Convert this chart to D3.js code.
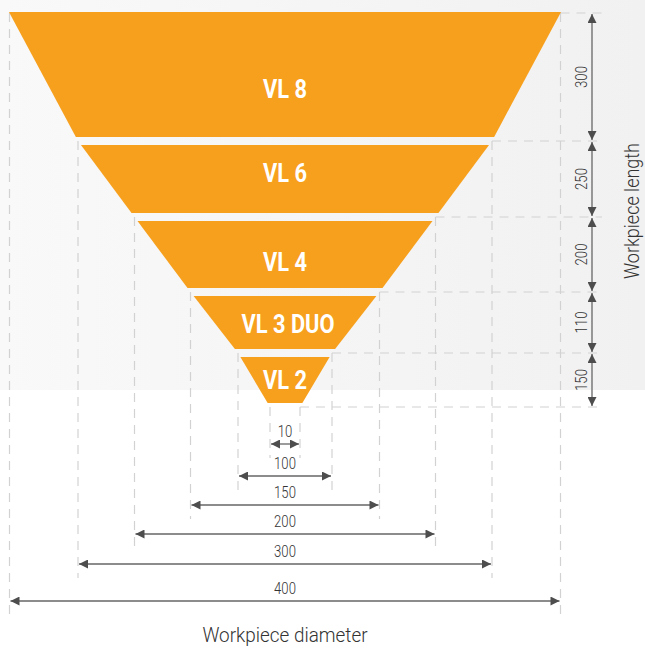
<!DOCTYPE html>
<html><head><meta charset="utf-8">
<script src="https://cdn.jsdelivr.net/npm/d3@7"></script>
<style>html,body{margin:0;padding:0;background:#fff}svg{display:block}</style>
</head><body>
<svg id="c" width="645" height="648"></svg>
<script>
// Data
const models = ["VL 8", "VL 6", "VL 4", "VL 3 DUO", "VL 2"];
const lengths = [300, 250, 200, 110, 150];            // workpiece length per model
const diameters = [400, 300, 200, 150, 100, 10];      // top diameter of each model, last = bottom of VL 2
const diameterTicks = [10, 100, 150, 200, 300, 400];  // bottom dimension rows

// layout
const labelDy = [14, -6, 7, 1, 0];
const FONT = "Roboto, 'Liberation Sans', sans-serif";
const svg = d3.select("#c");
const W = 645, H = 648, cx = 285;

const cum = [0];
lengths.forEach(l => cum.push(cum[cum.length - 1] + l));

// schematic (non-proportional) scales
const y = d3.scaleLinear().domain(cum).range([13, 141, 217, 292, 353, 407]);
const half = d3.scaleLinear().domain([0, 5, 50, 75, 100, 150, 200]).range([0, 15, 47, 94.5, 150.5, 207, 275.5]);
const xL = d => cx - half(d / 2), xR = d => cx + half(d / 2);
const rowY = d3.scaleOrdinal().domain(diameterTicks).range([444, 476, 505, 534, 564, 601]);

function ctext(parent, x, yy, str, opt) {
  const sx = opt.sx || 0.82;
  const rot = opt.rot ? ` rotate(${opt.rot})` : "";
  return parent.append("text")
    .attr("transform", `translate(${x},${yy})${rot} scale(${sx},1)`)
    .attr("text-anchor", "middle").attr("fill", opt.fill || "#333")
    .attr("font-family", FONT).attr("font-weight", opt.weight || 400)
    .attr("font-size", opt.size).text(str);
}

const defs = svg.append("defs");
const g = defs.append("linearGradient").attr("id", "bg").attr("x1", 0).attr("x2", 1).attr("y1", 0).attr("y2", 0);
g.append("stop").attr("offset", 0).attr("stop-color", "#f9f9f9");
g.append("stop").attr("offset", 1).attr("stop-color", "#f1f1f1");
defs.append("marker").attr("id", "ah").attr("viewBox", "0 0 10 10").attr("refX", 10).attr("refY", 5)
  .attr("markerWidth", 10).attr("markerHeight", 9).attr("markerUnits", "userSpaceOnUse").attr("orient", "auto-start-reverse")
  .append("path").attr("d", "M0,0 L10,5 L0,10 Z").attr("fill", "#4d4d4d");

svg.append("rect").attr("x", 0).attr("y", 0).attr("width", W).attr("height", 390).attr("fill", "url(#bg)");

const guides = svg.append("g").attr("stroke", "#d2d2d2").attr("stroke-width", 1.2).attr("stroke-dasharray", "9,7").attr("fill", "none");
diameters.forEach((d, i) => {
  const y0 = y(cum[i]);
  const y1 = rowY(d) + 14;
  [xL(d), xR(d)].forEach(x => guides.append("line").attr("x1", x).attr("x2", x).attr("y1", y0).attr("y2", y1));
});
cum.forEach((c, i) => {
  guides.append("line").attr("x1", xR(diameters[i])).attr("x2", i === 0 ? 606 : 602)
    .attr("y1", y(c)).attr("y2", y(c));
});

// trapezoids
const gap = 4;
const trap = svg.append("g");
models.forEach((m, i) => {
  const yt = y(cum[i]), yb = y(cum[i + 1]);
  const dt = diameters[i], db = diameters[i + 1];
  const t0 = i === 0 ? yt - 1 : yt + gap, t1 = yb - gap;
  const lerp = (a, b, yy) => a + (b - a) * (yy - yt) / (yb - yt);
  const pts = [
    [lerp(xL(dt), xL(db), t0), t0], [lerp(xR(dt), xR(db), t0), t0],
    [lerp(xR(dt), xR(db), t1), t1], [lerp(xL(dt), xL(db), t1), t1]
  ];
  trap.append("polygon").attr("points", pts.map(p => p.join(",")).join(" ")).attr("fill", "#f7a01e");
  ctext(trap, cx + (i === 3 ? 3 : 0), (t0 + t1) / 2 + 9 + labelDy[i], m,
    { size: 26, weight: 700, fill: "#fff", sx: 0.84 });
});

// right length dimension
const ax = 592;
const rg = svg.append("g");
lengths.forEach((l, i) => {
  const a = y(cum[i]), b = y(cum[i + 1]);
  rg.append("line").attr("x1", ax).attr("x2", ax).attr("y1", a + 1).attr("y2", b - 1)
    .attr("stroke", "#666").attr("stroke-width", 1.3)
    .attr("marker-start", "url(#ah)").attr("marker-end", "url(#ah)");
  ctext(rg, 587, (a + b) / 2, l, { size: 16, rot: -90, sx: 0.82, weight: 300 });
});
ctext(svg, 639, 211, "Workpiece length", { size: 20, rot: -90, weight: 300, sx: 0.9 });

// bottom diameter dimensions
const bg2 = svg.append("g");
diameterTicks.forEach(d => {
  const yy = rowY(d);
  bg2.append("line").attr("x1", xL(d) + 1).attr("x2", xR(d) - 1).attr("y1", yy).attr("y2", yy)
    .attr("stroke", "#666").attr("stroke-width", 1.3)
    .attr("marker-start", "url(#ah)").attr("marker-end", "url(#ah)");
  ctext(bg2, cx, yy - 7, d, { size: 16, sx: 0.82, weight: 300 });
});
ctext(svg, cx, 642, "Workpiece diameter", { size: 21, weight: 300, sx: 0.9 });
</script>
</body></html>
